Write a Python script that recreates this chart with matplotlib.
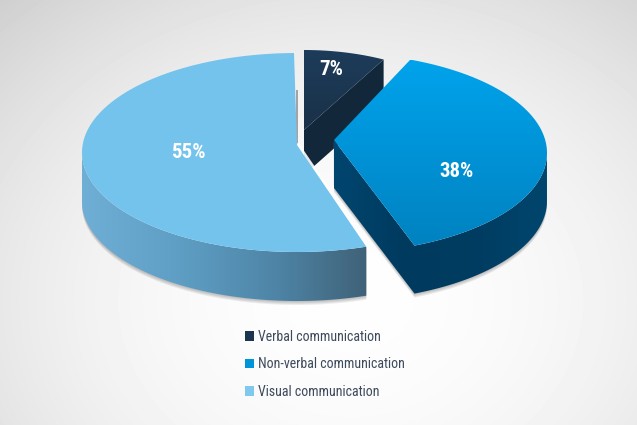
import numpy as np
import matplotlib
matplotlib.use('Agg')
import matplotlib.pyplot as plt
from matplotlib.colors import LinearSegmentedColormap
from matplotlib.patches import Polygon, Patch
import logging

logging.getLogger('matplotlib.font_manager').setLevel(logging.ERROR)

labels = ['Verbal communication', 'Non-verbal communication', 'Visual communication']
shares = [7, 38, 55]
colors = ['#1b3550', '#0095d9', '#73c3ec']

plt.rcParams['font.family'] = ['Roboto Condensed', 'Archivo Narrow', 'Asap Condensed', 'Lato', 'DejaVu Sans']

# slice centre, radii and apex, in picture pixels
centres = [(304, 150), (334, 153), (297, 152.5)]
radii = [(187, 100), (213, 100), (215, 99.5)]
apexes = [(304, 130), (334, 140), (297, 145)]
start_angle = [90, 69, 90.8]
depths = [45, 48, 49]


def arc(i, a0, a1, n=120):
    t = np.radians(np.linspace(a0, a1, n))
    cx, cy = centres[i]
    rx, ry = radii[i]
    return np.column_stack([cx + rx * np.cos(t), cy - ry * np.sin(t)])


def grad_fill(ax, pts, stops, horizontal=True, zorder=2):
    cmap = LinearSegmentedColormap.from_list('g', stops)
    g = np.linspace(0, 1, 256)
    g = g[None, :] if horizontal else g[:, None]
    x0, y0 = pts.min(axis=0)
    x1, y1 = pts.max(axis=0)
    im = ax.imshow(g, cmap=cmap, extent=[x0, x1, y1, y0], aspect='auto', zorder=zorder)
    im.set_clip_path(Polygon(pts, closed=True, transform=ax.transData))


def shadow(ax, pts, zorder=1):
    for k in range(1, 5):
        ax.fill(pts[:, 0], pts[:, 1] + k, color='#555555', alpha=0.10, lw=0, zorder=zorder)


fig = plt.figure(figsize=(6.37, 4.25), dpi=100)
ax = fig.add_axes([0, 0, 1, 1])

# background
yy, xx = np.mgrid[0:425, 0:637]
rr = np.hypot((xx - 350) / 520, (yy - 300) / 420)
bg = np.clip(0.995 - 0.19 * rr ** 2, 0, 1)
ax.imshow(bg, cmap='gray', vmin=0, vmax=1, extent=[0, 637, 425, 0], aspect='auto', zorder=0)

spans = [s / 100 * 360 for s in shares]

# verbal slice, sits at the back
down = np.array([0, depths[0]])
top = arc(0, start_angle[0], start_angle[0] - spans[0])
apex = np.array(apexes[0])
cut = np.array([top[-1], apex, apex + down, top[-1] + down])
ax.fill(cut[:, 0], cut[:, 1], color='#12283a', lw=0, zorder=2)
face = np.vstack([apex, top])
grad_fill(ax, face, ['#1d3c5a', '#1a3148'], horizontal=False, zorder=3)

# non-verbal slice, pulled out to the right
down = np.array([0, depths[1]])
top = arc(1, start_angle[1], start_angle[1] - spans[1])
apex = np.array(apexes[1])
right = top[top[:, 1] >= centres[1][1]]
side = np.vstack([apex, apex + down, right[::-1] + down, right])
shadow(ax, side, zorder=4)
grad_fill(ax, side, ['#00466f', '#003a5f', '#003c61', '#00466e'], zorder=5)
face = np.vstack([apex, top])
grad_fill(ax, face, ['#00a3ec', '#0082c0'], horizontal=False, zorder=6)
ax.plot([apex[0] - 0.5, apex[0] - 0.5], [apex[1] + 2, apex[1] + depths[1] - 4], color='#999999', alpha=0.5, lw=1, zorder=4)

# visual slice
down = np.array([0, depths[2]])
top = arc(2, start_angle[2], start_angle[2] + spans[2])
apex = np.array(apexes[2])
edge_shadow = np.array([[top[0][0] + 2, 90], [apex[0] + 1, 90], [apex[0] + 1, apex[1]], [top[0][0] + 2, apex[1]]])
ax.fill(edge_shadow[:, 0], edge_shadow[:, 1], color='#8f8f8f', alpha=0.8, lw=0, zorder=3)
ax.plot([apex[0] + 1, top[-1][0] + 1], [apex[1], top[-1][1]], color='white', lw=2.5, alpha=0.9, zorder=7)
front = top[np.argmin(top[:, 0]):]
side = np.vstack([front, front[::-1] + down])
shadow(ax, side, zorder=7)
grad_fill(ax, side, ['#6fafd5', '#5f9fc5', '#4f86a8', '#3f6278'], zorder=8)
face = np.vstack([apex, top])
ax.fill(face[:, 0], face[:, 1], color=colors[2], lw=0, zorder=9)

# percent labels
label_xy = [(331, 69), (457, 171), (188, 153)]
for s, (x, y) in zip(shares, label_xy):
    ax.text(x, y, f'{s}%', color='white', fontsize=15, fontweight='bold',
            ha='center', va='center', zorder=12)

handles = [Patch(facecolor=c, edgecolor='none') for c in ['#1b3550', '#0095d9', '#80c8ee']]
leg = ax.legend(handles, labels, loc='upper left', bbox_to_anchor=(245 / 637, 1 - 330 / 425),
                frameon=False, fontsize=10, labelcolor='#3d4a5c', handlelength=0.65,
                handleheight=0.65, handletextpad=0.3, labelspacing=0.97, borderpad=0, borderaxespad=0)
leg.set_zorder(12)

ax.set_xlim(0, 637)
ax.set_ylim(425, 0)
ax.axis('off')

fig.savefig('out.png', dpi=100)
